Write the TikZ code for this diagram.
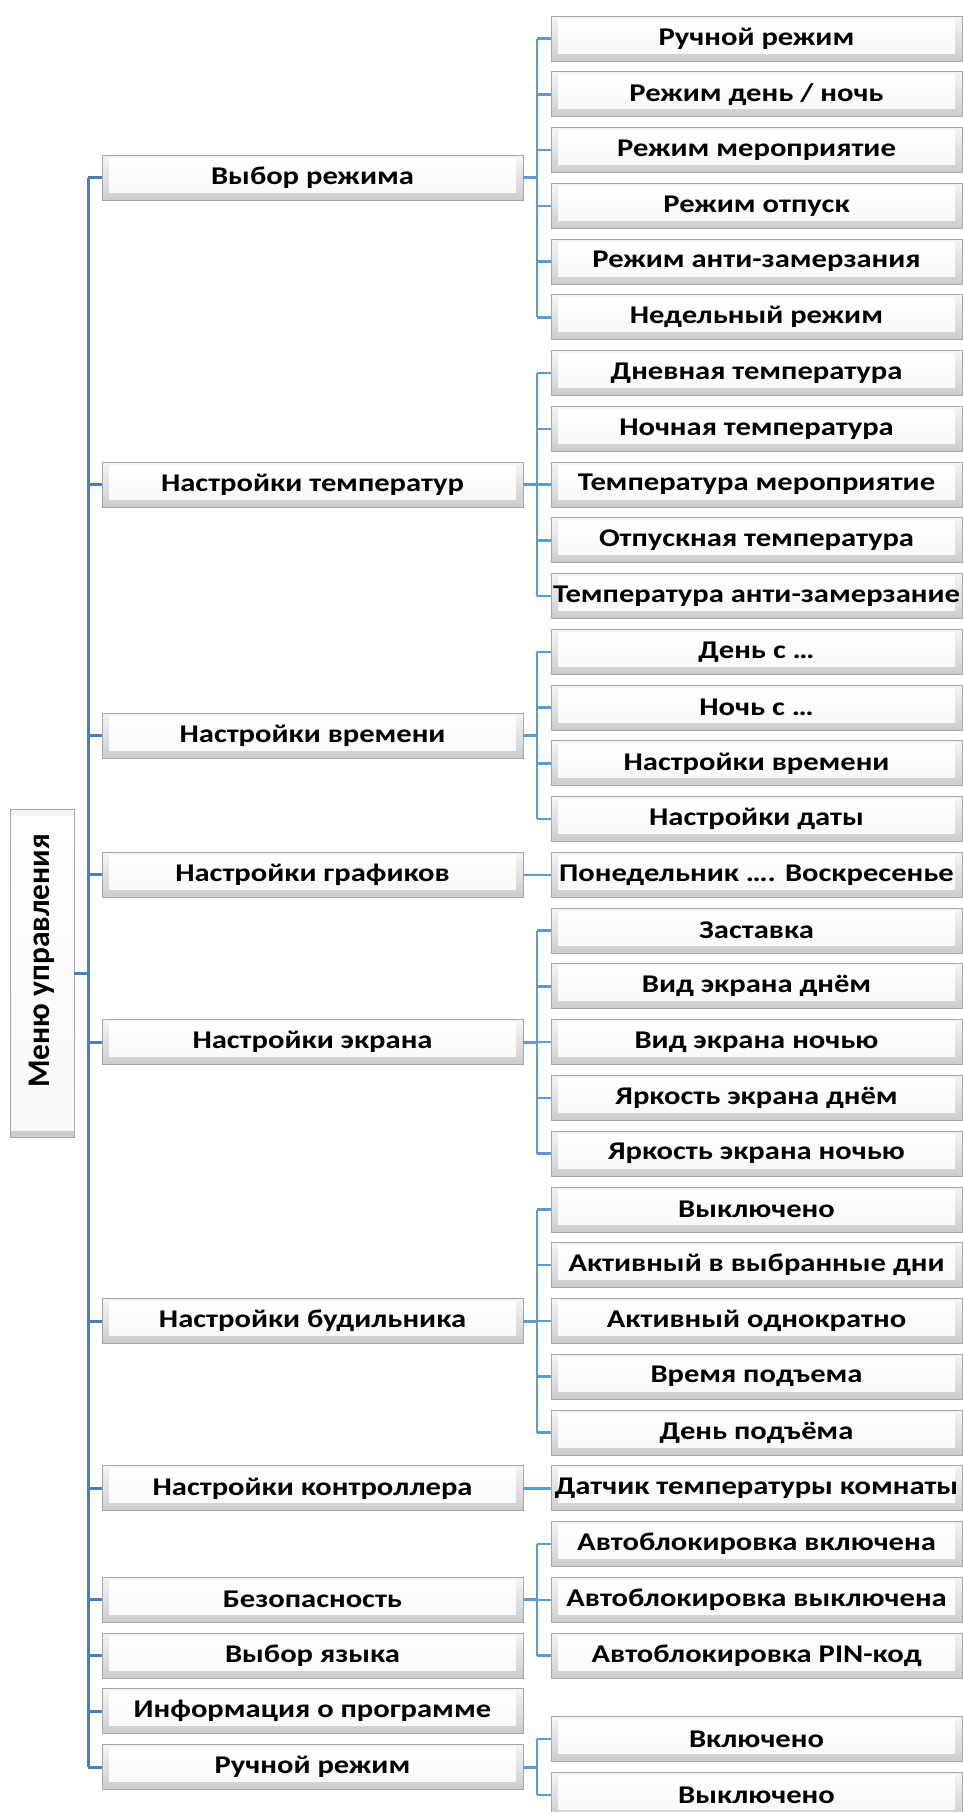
\documentclass[tikz,border=0pt]{standalone}
\usepackage{fontspec}
\setmainfont{Carlito}[FakeStretch=1.2]
\newfontfamily\vfont{Carlito}
\definecolor{mainblue}{HTML}{4A7EBB}
\definecolor{grpblue}{HTML}{5B9BD5}
\definecolor{boxedge}{HTML}{A6A6A6}
\tikzset{
 bevelbox/.style={draw=boxedge, line width=0.9pt, inner sep=0pt, align=center,
   font=\fontsize{25.5}{28}\selectfont\bfseries,
   path picture={
     \shade[top color=gray!8, bottom color=gray!40] (path picture bounding box.south west) rectangle (path picture bounding box.north east);
     \shade[top color=white, bottom color=gray!5] ([shift={(7pt,8pt)}]path picture bounding box.south west) rectangle ([shift={(-7pt,-3pt)}]path picture bounding box.north east);
   }},
 midbox/.style={bevelbox, minimum width=421pt, minimum height=45pt},
 subbox/.style={bevelbox, minimum width=411pt, minimum height=45pt},
 mainline/.style={draw=mainblue, line width=3pt},
 grpline/.style={draw=grpblue, line width=2.5pt},
}
\begin{document}
\begin{tikzpicture}[x=1pt,y=-1pt]
\useasboundingbox (0,0) rectangle (962,1812);
\coordinate (bus) at (88,0);
\coordinate (rbus) at (537,0);
% menu
\node[bevelbox, rotate=90, minimum width=328pt, minimum height=64pt,
  font=\vfont\fontsize{31.5}{34}\selectfont\bfseries] (menu) at (42,973) {\hspace{24pt}Меню управления};
% mid boxes
\node[midbox] (m1) at (312.5,177.9) {Выбор режима};
\node[midbox] (m2) at (312.5,484.6) {Настройки температур};
\node[midbox] (m3) at (312.5,735.5) {Настройки времени};
\node[midbox] (m4) at (312.5,874.9) {Настройки графиков};
\node[midbox] (m5) at (312.5,1042.2) {Настройки экрана};
\node[midbox] (m6) at (312.5,1321.0) {Настройки будильника};
\node[midbox] (m7) at (312.5,1488.3) {Настройки контроллера};
\node[midbox] (m8) at (312.5,1599.8) {Безопасность};
\node[midbox] (m9) at (312.5,1655.5) {Выбор языка};
\node[midbox] (m10) at (312.5,1711.3) {Информация о программе};
\node[midbox] (m11) at (312.5,1767.1) {Ручной режим};
% sub boxes
\node[subbox] (c1) at (756.5,38.5) {Ручной режим};
\node[subbox] (c2) at (756.5,94.3) {Режим день / ночь};
\node[subbox] (c3) at (756.5,150.0) {Режим мероприятие};
\node[subbox] (c4) at (756.5,205.8) {Режим отпуск};
\node[subbox] (c5) at (756.5,261.5) {Режим анти-замерзания};
\node[subbox] (c6) at (756.5,317.3) {Недельный режим};
\node[subbox] (c7) at (756.5,373.1) {Дневная температура};
\node[subbox] (c8) at (756.5,428.8) {Ночная температура};
\node[subbox] (c9) at (756.5,484.6) {Температура мероприятие};
\node[subbox] (c10) at (756.5,540.3) {Отпускная температура};
\node[subbox] (c11) at (756.5,596.1) {Температура анти-замерзание};
\node[subbox] (c12) at (756.5,651.9) {День с …};
\node[subbox] (c13) at (756.5,707.6) {Ночь с …};
\node[subbox] (c14) at (756.5,763.4) {Настройки времени};
\node[subbox] (c15) at (756.5,819.1) {Настройки даты};
\node[subbox] (c16) at (756.5,874.9) {Понедельник …. Воскресенье};
\node[subbox] (c17) at (756.5,930.7) {Заставка};
\node[subbox] (c18) at (756.5,986.4) {Вид экрана днём};
\node[subbox] (c19) at (756.5,1042.2) {Вид экрана ночью};
\node[subbox] (c20) at (756.5,1097.9) {Яркость экрана днём};
\node[subbox] (c21) at (756.5,1153.7) {Яркость экрана ночью};
\node[subbox] (c22) at (756.5,1209.5) {Выключено};
\node[subbox] (c23) at (756.5,1265.2) {Активный в выбранные дни};
\node[subbox] (c24) at (756.5,1321.0) {Активный однократно};
\node[subbox] (c25) at (756.5,1376.7) {Время подъема};
\node[subbox] (c26) at (756.5,1432.5) {День подъёма};
\node[subbox] (c27) at (756.5,1488.3) {Датчик температуры комнаты};
\node[subbox] (c28) at (756.5,1544.0) {Автоблокировка включена};
\node[subbox] (c29) at (756.5,1599.8) {Автоблокировка выключена};
\node[subbox] (c30) at (756.5,1655.5) {Автоблокировка PIN-код};
\node[subbox] (c31) at (756.5,1739.2) {Включено};
\node[subbox] (c32) at (756.5,1794.9) {Выключено};
% main bus
\draw[mainline] (m1.west -| bus) -- (m11.west -| bus);
\draw[mainline] (menu.south) -- (menu.south -| bus);
\foreach \m in {m1,m2,m3,m4,m5,m6,m7,m8,m9,m10,m11}
  \draw[mainline] (\m.west -| bus) -- (\m.west);
% groups
\foreach \p/\a/\b in {m1/c1/c6, m2/c7/c11, m3/c12/c15, m5/c17/c21, m6/c22/c26, m8/c28/c30, m11/c31/c32}{
  \draw[grpline, line width=3pt] (\p.east) -- (\p.east -| rbus);
  \draw[grpline] (\a.west -| rbus) -- (\b.west -| rbus);
}
\foreach \c in {c1,c2,c3,c4,c5,c6,c7,c8,c9,c10,c11,c12,c13,c14,c15,c17,c18,c19,c20,c21,c22,c23,c24,c25,c26,c28,c29,c30,c31,c32}
  \draw[grpline] (\c.west -| rbus) -- (\c.west);
\draw[grpline] (m4.east) -- (c16.west);
\draw[grpline] (m7.east) -- (c27.west);
\end{tikzpicture}
\end{document}
